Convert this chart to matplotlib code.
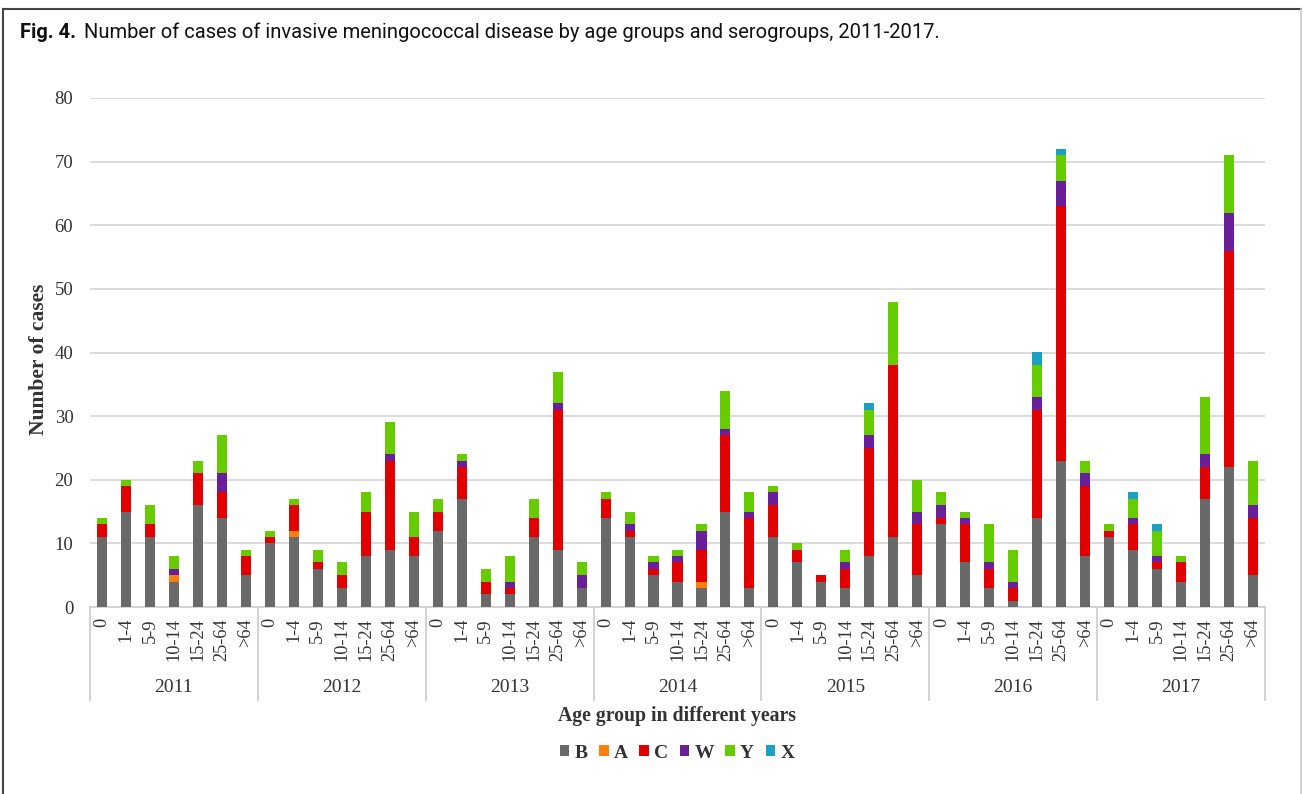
import numpy as np
import matplotlib.pyplot as plt
from matplotlib.lines import Line2D
from matplotlib.patches import Patch

years = ["2011", "2012", "2013", "2014", "2015", "2016", "2017"]
age_groups = ["0", "1-4", "5-9", "10-14", "15-24", "25-64", ">64"]
serogroups = ["B", "A", "C", "W", "Y", "X"]
colors = ["#696969", "#ff7f0e", "#e00000", "#6a1f9a", "#66cc00", "#1aa0c4"]

# values per bar, year by year, age group order as above
B = [11, 15, 11, 4, 16, 14, 5,
     10, 11, 6, 3, 8, 9, 8,
     12, 17, 2, 2, 11, 9, 3,
     14, 11, 5, 4, 3, 15, 3,
     11, 7, 4, 3, 8, 11, 5,
     13, 7, 3, 1, 14, 23, 8,
     11, 9, 6, 4, 17, 22, 5]
A = [0, 0, 0, 1, 0, 0, 0,
     0, 1, 0, 0, 0, 0, 0,
     0, 0, 0, 0, 0, 0, 0,
     0, 0, 0, 0, 1, 0, 0,
     0, 0, 0, 0, 0, 0, 0,
     0, 0, 0, 0, 0, 0, 0,
     0, 0, 0, 0, 0, 0, 0]
C = [2, 4, 2, 0, 5, 4, 3,
     1, 4, 1, 2, 7, 14, 3,
     3, 5, 2, 1, 3, 22, 0,
     3, 1, 1, 3, 5, 12, 11,
     5, 2, 1, 3, 17, 27, 8,
     1, 6, 3, 2, 17, 40, 11,
     1, 4, 1, 3, 5, 34, 9]
W = [0, 0, 0, 1, 0, 3, 0,
     0, 0, 0, 0, 0, 1, 0,
     0, 1, 0, 1, 0, 1, 2,
     0, 1, 1, 1, 3, 1, 1,
     2, 0, 0, 1, 2, 0, 2,
     2, 1, 1, 1, 2, 4, 2,
     0, 1, 1, 0, 2, 6, 2]
Y = [1, 1, 3, 2, 2, 6, 1,
     1, 1, 2, 2, 3, 5, 4,
     2, 1, 2, 4, 3, 5, 2,
     1, 2, 1, 1, 1, 6, 3,
     1, 1, 0, 2, 4, 10, 5,
     2, 1, 6, 5, 5, 4, 2,
     1, 3, 4, 1, 9, 9, 7]
X = [0, 0, 0, 0, 0, 0, 0,
     0, 0, 0, 0, 0, 0, 0,
     0, 0, 0, 0, 0, 0, 0,
     0, 0, 0, 0, 0, 0, 0,
     0, 0, 0, 0, 1, 0, 0,
     0, 0, 0, 0, 2, 1, 0,
     0, 1, 1, 0, 0, 0, 0]

series = [B, A, C, W, Y, X]
serif = "Liberation Serif"

fig = plt.figure(figsize=(13.03, 7.94), dpi=100)
ax = fig.add_axes([90 / 1303, 1 - 607 / 794, 1175 / 1303, 509 / 794])

n = len(years) * len(age_groups)
x = np.arange(n)
bottom = np.zeros(n)
for vals, col in zip(series, colors):
    vals = np.array(vals, dtype=float)
    ax.bar(x, vals, width=0.42, bottom=bottom, color=col, zorder=3)
    bottom += vals

ax.set_xlim(-0.5, n - 0.5)
ax.set_ylim(0, 80)
ax.set_yticks(range(0, 81, 10))
ax.yaxis.grid(True, color="#d9d9d9", linewidth=1.3, zorder=0)
for s in ["top", "right", "left"]:
    ax.spines[s].set_visible(False)
ax.spines["bottom"].set_color("#d0d0d0")
ax.spines["bottom"].set_linewidth(1.3)
ax.tick_params(axis="y", length=0, pad=12, labelsize=13.5)
ax.tick_params(axis="x", length=0, pad=8, labelsize=13.2)
for lab in ax.get_yticklabels():
    lab.set_fontfamily(serif)
    lab.set_color("#333333")

ax.set_xticks(x)
ax.set_xticklabels(age_groups * len(years), rotation=90, fontfamily=serif, color="#333333")

# year group separators and labels
sep_len = (700 - 607) / 509
ng = len(age_groups)
for k in range(len(years) + 1):
    ax.add_line(Line2D([k * ng - 0.5] * 2, [0, -sep_len], transform=ax.get_xaxis_transform(),
                       color="#d0d0d0", linewidth=1.3, clip_on=False))
for k, yr in enumerate(years):
    ax.text(k * ng + (ng - 1) / 2, -(688 - 607) / 509, yr, transform=ax.get_xaxis_transform(),
            ha="center", va="center", fontsize=14, fontfamily=serif, color="#333333")

fig.text(677 / 1303, 1 - 716 / 794, "Age group in different years", ha="center", va="center",
         fontsize=14.2, fontweight="bold", fontfamily=serif, color="#333333")
fig.text(39 / 1303, 1 - 359 / 794, "Number of cases", ha="center", va="center", rotation=90,
         fontsize=15.5, fontweight="bold", fontfamily=serif, color="#333333")

handles = [Patch(facecolor=c) for c in colors]
leg = fig.legend(handles, serogroups, loc="center", bbox_to_anchor=(677 / 1303, 1 - 753 / 794),
                 ncol=6, frameon=False, handlelength=0.5, handleheight=0.5, handletextpad=0.25,
                 columnspacing=0.6, prop={"family": serif, "weight": "bold", "size": 14})
for t in leg.get_texts():
    t.set_color("#333333")

# title and outer frame
title_font = ["Roboto", "DejaVu Sans"]
fig.text(20 / 1303, 1 - 32 / 794, "Fig. 4.", ha="left", va="center", fontsize=14.5,
         fontweight="bold", fontfamily=title_font, color="#111111")
fig.text(84 / 1303, 1 - 32 / 794,
         "Number of cases of invasive meningococcal disease by age groups and serogroups, 2011-2017.",
         ha="left", va="center", fontsize=14.5, fontfamily=title_font, color="#111111")
fig.add_artist(Line2D([3 / 1303, 3 / 1303], [0, 1 - 9 / 794], color="#444444", linewidth=1.5))
fig.add_artist(Line2D([3 / 1303, 1301 / 1303], [1 - 9 / 794] * 2, color="#444444", linewidth=1.5))
fig.add_artist(Line2D([1301 / 1303, 1301 / 1303], [0, 1 - 9 / 794], color="#cccccc", linewidth=1.2))

fig.savefig("out.png", dpi=100, facecolor="white")
